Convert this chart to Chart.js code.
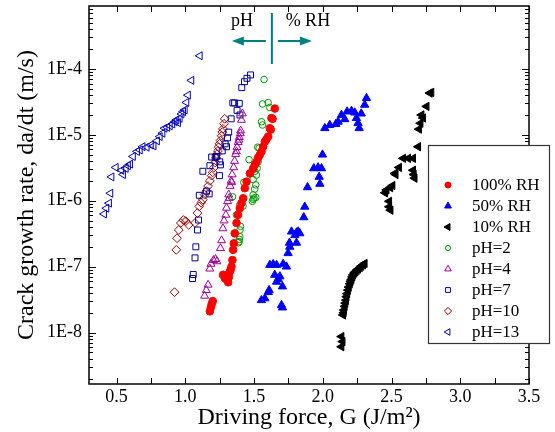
<!DOCTYPE html>
<html>
<head>
<meta charset="utf-8">
<script src="https://cdn.jsdelivr.net/npm/chart.js@4.4.1/dist/chart.umd.min.js"></script>
<style>
  html, body { margin: 0; padding: 0; background: #fff; }
  #wrap { width: 555px; height: 432px; }
</style>
</head>
<body>
<div id="wrap"><canvas id="crack-chart"></canvas></div>
<script>
// === DADOS === //
const series_names = ['100% RH', '50% RH', '10% RH', 'pH=2', 'pH=4', 'pH=7', 'pH=10', 'pH=13'];

const rh100_G = [1.179, 1.186, 1.192, 1.200, 1.275, 1.288, 1.300, 1.312, 1.318, 1.324, 1.330, 1.336, 1.343, 1.348, 1.353, 1.360, 1.373, 1.384, 1.397, 1.409, 1.421, 1.433, 1.446, 1.470, 1.494, 1.506, 1.518, 1.530, 1.542, 1.555, 1.566, 1.579, 1.590, 1.603, 1.615, 1.622, 1.627, 1.635, 1.651];
const rh100_v = [2.1e-8, 2.4e-8, 2.7e-8, 3.0e-8, 7.5e-8, 6.7e-8, 6.4e-8, 5.8e-8, 7.0e-8, 8.4e-8, 9.0e-8, 1.0e-7, 1.26e-7, 1.8e-7, 2.26e-7, 3.2e-7, 4.6e-7, 6.1e-7, 7.7e-7, 9.2e-7, 1.09e-6, 1.55e-6, 1.95e-6, 2.6e-6, 3.1e-6, 3.5e-6, 3.9e-6, 4.5e-6, 4.95e-6, 5.6e-6, 6.6e-6, 7.9e-6, 8.5e-6, 9.4e-6, 1.26e-5, 1.2e-5, 1.79e-5, 1.75e-5, 2.5e-5];

const rh50_G = [1.554, 1.579, 1.604, 1.610, 1.700, 1.707, 1.664, 1.688, 1.707, 1.651, 1.676, 1.615, 1.639, 1.664, 1.712, 1.736, 1.748, 1.760, 1.758, 1.773, 1.797, 1.809, 1.822, 1.833, 1.809, 1.862, 1.869, 1.889, 1.979, 1.974, 1.935, 1.966, 1.991, 1.998, 2.015, 2.051, 2.095, 2.112, 2.136, 2.160, 2.177, 2.209, 2.233, 2.245, 2.257, 2.265, 2.280, 2.305, 2.318];
const rh50_v = [3.1e-8, 3.3e-8, 4.1e-8, 4.4e-8, 2.6e-8, 2.4e-8, 5.9e-8, 7.1e-8, 5.0e-8, 7.5e-8, 6.5e-8, 1.06e-7, 1.09e-7, 1.06e-7, 1.1e-7, 1.0e-7, 1.6e-7, 2.0e-7, 2.3e-7, 3.4e-7, 3.0e-7, 3.3e-7, 3.4e-7, 3.2e-7, 2.3e-7, 5.6e-7, 8.1e-7, 1.6e-6, 1.8e-6, 2.3e-6, 3.1e-6, 3.2e-6, 3.1e-6, 5.0e-6, 1.26e-5, 1.41e-5, 1.46e-5, 1.58e-5, 2.0e-5, 1.72e-5, 2.25e-5, 2.3e-5, 2.17e-5, 1.79e-5, 1.5e-5, 1.26e-5, 2.1e-5, 2.85e-5, 3.6e-5];

const rh10_G = [2.136, 2.144, 2.136, 2.148, 2.152, 2.155, 2.160, 2.165, 2.170, 2.173, 2.178, 2.184, 2.190, 2.197, 2.203, 2.209, 2.215, 2.221, 2.230, 2.238, 2.247, 2.257, 2.270, 2.281, 2.293, 2.305, 2.453, 2.464, 2.483, 2.483, 2.493, 2.491, 2.507, 2.524, 2.530, 2.555, 2.585, 2.621, 2.657, 2.657, 2.662, 2.668, 2.694, 2.700, 2.711, 2.730, 2.718, 2.755, 2.778, 2.790];
const rh10_v = [6.1e-9, 7.3e-9, 8.7e-9, 1.85e-8, 2.0e-8, 2.2e-8, 2.5e-8, 2.8e-8, 3.1e-8, 3.5e-8, 3.9e-8, 4.4e-8, 4.9e-8, 5.5e-8, 6.0e-8, 6.4e-8, 7.0e-8, 7.5e-8, 8.0e-8, 8.4e-8, 8.8e-8, 9.2e-8, 9.7e-8, 1.02e-7, 1.07e-7, 1.12e-7, 1.32e-6, 1.46e-6, 9.8e-7, 8.1e-7, 7.2e-7, 1.58e-6, 1.7e-6, 2.6e-6, 2.5e-6, 3.2e-6, 4.4e-6, 4.4e-6, 4.4e-6, 2.9e-6, 2.5e-6, 2.2e-6, 6.6e-6, 1.22e-5, 1.5e-5, 1.8e-5, 2.0e-5, 2.7e-5, 4.3e-5, 4.4e-5];

const ph2_G = [1.277, 1.385, 1.392, 1.393, 1.397, 1.398, 1.402, 1.372, 1.397, 1.420, 1.344, 1.488, 1.494, 1.500, 1.513, 1.494, 1.505, 1.513, 1.426, 1.494, 1.518, 1.506, 1.523, 1.530, 1.464, 1.537, 1.537, 1.527, 1.555, 1.562, 1.562, 1.603, 1.615, 1.573];
const ph2_v = [7.6e-8, 2.3e-7, 2.4e-7, 2.6e-7, 2.85e-7, 3.6e-7, 4.1e-7, 6.1e-7, 8.7e-7, 8.3e-7, 1.15e-6, 9.8e-7, 1.05e-6, 1.1e-6, 1.12e-6, 1.23e-6, 1.5e-6, 1.74e-6, 1.9e-6, 2.1e-6, 2.45e-6, 2.8e-6, 3.1e-6, 3.9e-6, 4.2e-6, 4.7e-6, 6.3e-6, 6.5e-6, 1.58e-5, 1.41e-5, 2.94e-5, 3.08e-5, 2.6e-5, 6.9e-5];

const ph4_G = [1.141, 1.153, 1.166, 1.179, 1.187, 1.205, 1.220, 1.231, 1.256, 1.264, 1.274, 1.282, 1.295, 1.300, 1.308, 1.316, 1.320, 1.326, 1.334, 1.338, 1.341, 1.352, 1.359, 1.367, 1.372, 1.377, 1.385, 1.390, 1.393, 1.400, 1.403, 1.409, 1.416];
const ph4_v = [3.6e-8, 4.4e-8, 5.3e-8, 9.3e-8, 1.1e-7, 1.25e-7, 1.3e-7, 1.2e-7, 1.9e-7, 2.5e-7, 3.8e-7, 5.0e-7, 6.1e-7, 7.8e-7, 9.8e-7, 1.24e-6, 1.1e-6, 1.67e-6, 2.0e-6, 1.9e-6, 2.5e-6, 3.2e-6, 4.0e-6, 5.1e-6, 5.6e-6, 6.5e-6, 7.7e-6, 8.4e-6, 9.2e-6, 1.05e-5, 1.16e-5, 1.68e-5, 2.1e-5];

const ph7_G = [1.053, 1.058, 1.071, 1.077, 1.089, 1.097, 1.102, 1.128, 1.155, 1.174, 1.179, 1.192, 1.218, 1.227, 1.249, 1.256, 1.251, 1.269, 1.290, 1.300, 1.308, 1.316, 1.334, 1.346, 1.359, 1.377, 1.393, 1.398, 1.411, 1.431, 1.449, 1.475];
const ph7_v = [6.6e-8, 7.6e-8, 1.36e-7, 2.0e-7, 3.6e-7, 5.1e-7, 1.21e-6, 2.8e-6, 1.4e-6, 1.27e-6, 3.4e-6, 4.6e-6, 4.5e-6, 4.7e-6, 2.4e-6, 3.5e-6, 3.9e-6, 5.7e-6, 7.3e-6, 6.6e-6, 9.0e-6, 1.1e-5, 1.75e-5, 3.05e-5, 3.05e-5, 2.35e-5, 3.0e-5, 2.0e-5, 5.2e-5, 6.4e-5, 7.2e-5, 8.1e-5];

const ph10_G = [0.922, 0.935, 0.940, 0.953, 0.968, 0.986, 1.004, 1.025, 1.071, 1.089, 1.102, 1.115, 1.128, 1.141, 1.153, 1.166, 1.179, 1.192, 1.200, 1.210, 1.218, 1.225, 1.231, 1.238, 1.243, 1.249, 1.256, 1.264, 1.269, 1.274, 1.282, 1.287];
const ph10_v = [4.1e-8, 1.8e-7, 2.7e-7, 3.6e-7, 4.6e-7, 5.1e-7, 4.9e-7, 4.3e-7, 4.6e-7, 6.5e-7, 8.2e-7, 9.3e-7, 1.04e-6, 1.24e-6, 1.4e-6, 1.67e-6, 2.0e-6, 2.4e-6, 2.7e-6, 3.2e-6, 3.8e-6, 4.5e-6, 5.1e-6, 5.7e-6, 6.5e-6, 7.3e-6, 8.2e-6, 9.7e-6, 1.1e-5, 1.23e-5, 1.47e-5, 1.75e-5];

const ph13_G = [0.410, 0.427, 0.446, 0.456, 0.464, 0.495, 0.536, 0.548, 0.568, 0.584, 0.600, 0.620, 0.650, 0.670, 0.690, 0.720, 0.750, 0.770, 0.795, 0.815, 0.835, 0.850, 0.870, 0.888, 0.907, 0.924, 0.936, 0.948, 0.960, 0.973, 0.985, 0.997, 1.009, 1.020, 1.045, 1.106];
const ph13_v = [6.3e-7, 7.7e-7, 9.2e-7, 1.3e-6, 2.3e-6, 3.2e-6, 2.9e-6, 2.5e-6, 3.1e-6, 3.4e-6, 3.6e-6, 4.7e-6, 5.6e-6, 5.9e-6, 6.6e-6, 6.5e-6, 7.0e-6, 6.8e-6, 8.1e-6, 9.4e-6, 1.06e-5, 1.26e-5, 1.3e-5, 1.37e-5, 1.46e-5, 1.58e-5, 1.68e-5, 1.53e-5, 1.78e-5, 2.07e-5, 2.25e-5, 2.39e-5, 3.1e-5, 4.0e-5, 6.7e-5, 1.58e-4];

const x_ticks = [0.5, 1.0, 1.5, 2.0, 2.5, 3.0, 3.5];
const y_ticks = [1e-8, 1e-7, 1e-6, 1e-5, 1e-4];

// === ESTILOS === //
const styles = [
  { color: '#ff0000', shape: 'circle',   radius: 3.8, fill: true,  rot: 0 },
  { color: '#0000ff', shape: 'triangle', radius: 4.8, fill: true,  rot: 0 },
  { color: '#000000', shape: 'triangle', radius: 4.8, fill: true,  rot: -90 },
  { color: '#009900', shape: 'circle',   radius: 3.3, fill: false, rot: 0 },
  { color: '#990099', shape: 'triangle', radius: 4.6, fill: false, rot: 0 },
  { color: '#000099', shape: 'rect',     radius: 4.2, fill: false, rot: 0 },
  { color: '#990000', shape: 'rectRot',  radius: 4.4, fill: false, rot: 0 },
  { color: '#0000bb', shape: 'triangle', radius: 4.6, fill: false, rot: -90 }
];
const columns = [
  [rh100_G, rh100_v], [rh50_G, rh50_v], [rh10_G, rh10_v], [ph2_G, ph2_v],
  [ph4_G, ph4_v], [ph7_G, ph7_v], [ph10_G, ph10_v], [ph13_G, ph13_v]
];

const datasets = series_names.map((name, i) => {
  const s = styles[i];
  return {
    label: name,
    data: columns[i][0].map((g, k) => ({ x: g, y: columns[i][1][k] })),
    pointStyle: s.shape,
    pointRadius: s.radius,
    pointRotation: s.rot,
    pointBorderWidth: 1,
    pointBorderColor: s.color,
    pointBackgroundColor: s.fill ? s.color : 'rgba(0,0,0,0)',
    showLine: false
  };
});

const serif = "'Liberation Serif', 'Times New Roman', serif";
Chart.defaults.color = '#000';
Chart.defaults.font.family = serif;

// moldura com ticks para dentro, seta pH / %RH e legenda
const decorations = {
  id: 'decorations',
  afterDatasetsDraw(chart) {
    const { ctx, chartArea: a, scales: { x, y } } = chart;
    ctx.save();
    ctx.strokeStyle = '#000';
    ctx.lineWidth = 1;
    ctx.beginPath();
    for (let v = 0.5; v <= 3.5001; v += 0.25) {
      const px = Math.round(x.getPixelForValue(v)) + 0.5;
      ctx.moveTo(px, a.bottom); ctx.lineTo(px, a.bottom - 6);
      ctx.moveTo(px, a.top); ctx.lineTo(px, a.top + 6);
    }
    for (let e = -9; e <= -3; e++) {
      for (let m = 1; m <= 9; m++) {
        const v = m * Math.pow(10, e);
        if (v < y.min || v > y.max) continue;
        const py = Math.round(y.getPixelForValue(v)) + 0.5;
        const len = m === 1 ? 7 : 4;
        ctx.moveTo(a.left, py); ctx.lineTo(a.left + len, py);
        ctx.moveTo(a.right, py); ctx.lineTo(a.right - len, py);
      }
    }
    ctx.stroke();
    ctx.lineWidth = 1.5;
    ctx.strokeRect(a.left, a.top, a.right - a.left, a.bottom - a.top);

    // divisória pH | % RH
    const lx = x.getPixelForValue(1.63);
    ctx.strokeStyle = '#008080';
    ctx.fillStyle = '#008080';
    ctx.lineWidth = 2;
    ctx.beginPath();
    ctx.moveTo(lx, a.top + 7); ctx.lineTo(lx, a.top + 58);
    ctx.moveTo(lx - 6, a.top + 35); ctx.lineTo(lx - 30, a.top + 35);
    ctx.moveTo(lx + 6, a.top + 35); ctx.lineTo(lx + 30, a.top + 35);
    ctx.stroke();
    ctx.beginPath();
    ctx.moveTo(lx - 40, a.top + 35); ctx.lineTo(lx - 28, a.top + 30.5); ctx.lineTo(lx - 28, a.top + 39.5); ctx.closePath();
    ctx.moveTo(lx + 40, a.top + 35); ctx.lineTo(lx + 28, a.top + 30.5); ctx.lineTo(lx + 28, a.top + 39.5); ctx.closePath();
    ctx.fill();
    ctx.fillStyle = '#000';
    ctx.font = '18px ' + serif;
    ctx.textBaseline = 'middle';
    ctx.textAlign = 'center';
    ctx.fillText('pH', lx - 30, a.top + 15);
    ctx.fillText('% RH', lx + 36, a.top + 15);
    ctx.restore();
  },
  afterDraw(chart) {
    const { ctx } = chart;
    const bx = 428, by = 145, bw = 121, bh = 198;
    ctx.save();
    ctx.fillStyle = '#fff';
    ctx.fillRect(bx, by, bw, bh);
    ctx.strokeStyle = '#333';
    ctx.lineWidth = 1.2;
    ctx.strokeRect(bx + 0.5, by + 0.5, bw, bh);
    ctx.font = '17px ' + serif;
    ctx.textBaseline = 'middle';
    ctx.textAlign = 'left';
    series_names.forEach((name, i) => {
      const s = styles[i];
      const yy = by + 40 + i * 21;
      ctx.fillStyle = s.fill ? s.color : 'rgba(0,0,0,0)';
      ctx.strokeStyle = s.color;
      ctx.lineWidth = 1;
      Chart.helpers.drawPoint(ctx, { pointStyle: s.shape, radius: s.radius - 0.8, rotation: s.rot, borderWidth: 1 }, bx + 20, yy);
      ctx.fillStyle = '#000';
      ctx.fillText(name, bx + 44, yy + 1);
    });
    ctx.restore();
  }
};

new Chart(document.getElementById('crack-chart'), {
  type: 'scatter',
  data: { datasets: datasets },
  options: {
    responsive: true,
    maintainAspectRatio: false,
    animation: false,
    layout: { padding: { top: 6, right: 26, left: 0, bottom: 0 } },
    plugins: {
      legend: { display: false },
      tooltip: { enabled: false }
    },
    scales: {
      x: {
        type: 'linear',
        min: 0.3,
        max: 3.5,
        afterBuildTicks: s => { s.ticks = x_ticks.map(v => ({ value: v })); },
        afterFit: s => { s.height = 48; s.paddingLeft = 0; s.paddingRight = 0; },
        grid: { display: false, drawTicks: false },
        border: { display: false },
        ticks: { autoSkip: false, maxRotation: 0, padding: 2, font: { size: 18 }, callback: v => v.toFixed(1) },
        title: { display: true, text: 'Driving force, G (J/m²)', font: { size: 24 }, padding: { top: 0, bottom: 0 } }
      },
      y: {
        type: 'logarithmic',
        min: 1.66e-9,
        max: 9.0e-4,
        afterBuildTicks: s => { s.ticks = y_ticks.map(v => ({ value: v })); },
        afterFit: s => { s.width = 89; s.paddingTop = 0; s.paddingBottom = 0; },
        grid: { display: false, drawTicks: false },
        border: { display: false },
        ticks: { autoSkip: false, padding: 7, font: { size: 18 }, callback: v => '1E' + Math.round(Math.log10(v)) },
        title: { display: true, text: 'Crack growth rate, da/dt (m/s)', font: { size: 24 }, padding: { top: 12 } }
      }
    }
  },
  plugins: [decorations]
});
</script>
</body>
</html>
